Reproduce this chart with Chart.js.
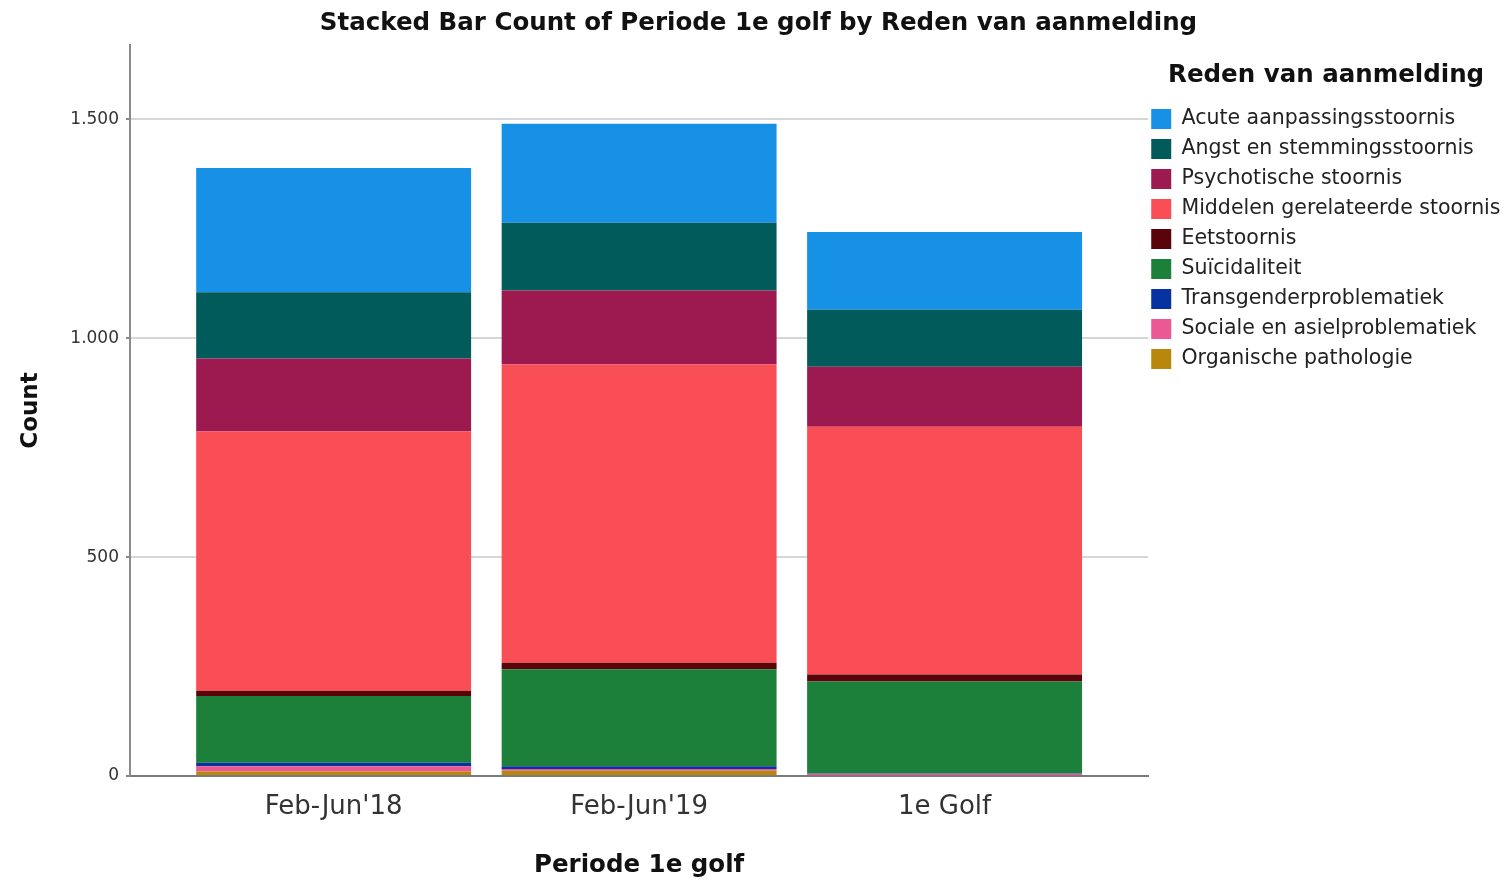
<!DOCTYPE html>
<html>
<head>
<meta charset="utf-8">
<script src="https://cdn.jsdelivr.net/npm/chart.js@4/dist/chart.umd.min.js"></script>
<style>
html,body{margin:0;padding:0;background:#fff;}
canvas{display:block;}
</style>
</head>
<body>
<canvas id="c" width="1509" height="881"></canvas>
<script>
const categories = ["Feb-Jun'18", "Feb-Jun'19", "1e Golf"];
const yTicks = [0, 500, 1000, 1500];
// stacking order bottom -> top
const organische   = [10, 12, 2];
const sociale      = [12, 4, 3];
const transgender  = [8, 6, 1];
const suicidaliteit= [153, 222, 210];
const eetstoornis  = [12, 15, 16];
const middelen     = [592, 681, 566];
const psychotische = [167, 169, 137];
const angst        = [151, 155, 130];
const acute        = [284, 226, 178];

const seriesNames = ["Organische pathologie","Sociale en asielproblematiek","Transgenderproblematiek","Suïcidaliteit","Eetstoornis","Middelen gerelateerde stoornis","Psychotische stoornis","Angst en stemmingsstoornis","Acute aanpassingsstoornis"];
const seriesValues = [organische, sociale, transgender, suicidaliteit, eetstoornis, middelen, psychotische, angst, acute];
const seriesColors = ["#b9870b","#ec5893","#0633a1","#1c7f3a","#5a0309","#fa4e56","#9c1a50","#025b5b","#1791e6"];

const datasets = seriesNames.map((n, i) => ({
  label: n,
  data: seriesValues[i].map((v, j) => ({x: j, y: v})),
  backgroundColor: seriesColors[i],
  borderWidth: 0,
  barPercentage: 0.9,
  categoryPercentage: 1.0
}));

const fmt = v => String(v).replace(/\B(?=(\d{3})+(?!\d))/g, '.');

// nudge legend a few px left of the plot edge, like the reference
const legendNudge = {
  id: 'legendNudge',
  afterLayout(chart) {
    const lg = chart.legend;
    if (lg) { lg.left -= 6.5; lg.right -= 6.5; }
  }
};

new Chart(document.getElementById('c'), {
  type: 'bar',
  data: { datasets },
  plugins: [legendNudge],
  options: {
    responsive: false,
    devicePixelRatio: 1,
    animation: false,
    layout: { padding: { left: 0, right: -8, top: 0, bottom: 0 } },
    plugins: {
      title: {
        display: true,
        text: 'Stacked Bar Count of Periode 1e golf by Reden van aanmelding',
        color: '#111',
        font: { family: 'DejaVu Sans', size: 24.5, weight: 'bold' },
        padding: { top: 9, bottom: 6.6 }
      },
      legend: {
        position: 'right',
        align: 'start',
        fullSize: false,
        reverse: true,
        title: {
          display: true,
          text: 'Reden van aanmelding',
          position: 'center',
          color: '#111',
          font: { family: 'DejaVu Sans', size: 24.5, weight: 'bold' },
          padding: { top: 18.75, bottom: 6.1 }
        },
        labels: {
          boxWidth: 20,
          boxHeight: 20,
          padding: 9.5,
          color: '#222',
          font: { family: 'DejaVu Sans', size: 20.5 }
        }
      },
      tooltip: { enabled: false }
    },
    scales: {
      x: {
        type: 'linear',
        stacked: true,
        offset: false,
        min: -2/3,
        max: 8/3,
        afterBuildTicks: s => { s.ticks = [0, 1, 2].map(v => ({ value: v })); },
        afterFit: s => { s.height = 105; },
        grid: { display: false, drawTicks: false, offset: false },
        border: { display: true, color: '#7a7a7a', width: 2 },
        ticks: {
          callback: v => categories[v],
          color: '#333',
          padding: 16,
          maxRotation: 0,
          font: { family: 'DejaVu Sans', size: 26 }
        },
        title: {
          display: true,
          text: 'Periode 1e golf',
          color: '#111',
          font: { family: 'DejaVu Sans', size: 24.5, weight: 'bold' },
          padding: { top: 0, bottom: 0.5 }
        }
      },
      y: {
        stacked: true,
        min: 0,
        max: 1670,
        afterBuildTicks: s => { s.ticks = yTicks.map(v => ({ value: v })); },
        afterFit: s => { s.width = 130; },
        grid: {
          color: ctx => (ctx.tick && ctx.tick.value === 0) ? 'rgba(0,0,0,0)' : '#d6d6d6',
          lineWidth: 2,
          drawTicks: true,
          tickLength: 4,
          tickColor: '#8a8a8a'
        },
        border: { display: true, color: '#8a8a8a', width: 2 },
        ticks: {
          callback: v => fmt(v),
          color: '#333',
          padding: 7,
          font: { family: 'DejaVu Sans', size: 17 }
        },
        title: {
          display: true,
          text: 'Count',
          color: '#111',
          font: { family: 'DejaVu Sans', size: 23, weight: 'bold' },
          padding: { top: 17, bottom: 0 }
        }
      }
    }
  }
});
</script>
</body>
</html>
